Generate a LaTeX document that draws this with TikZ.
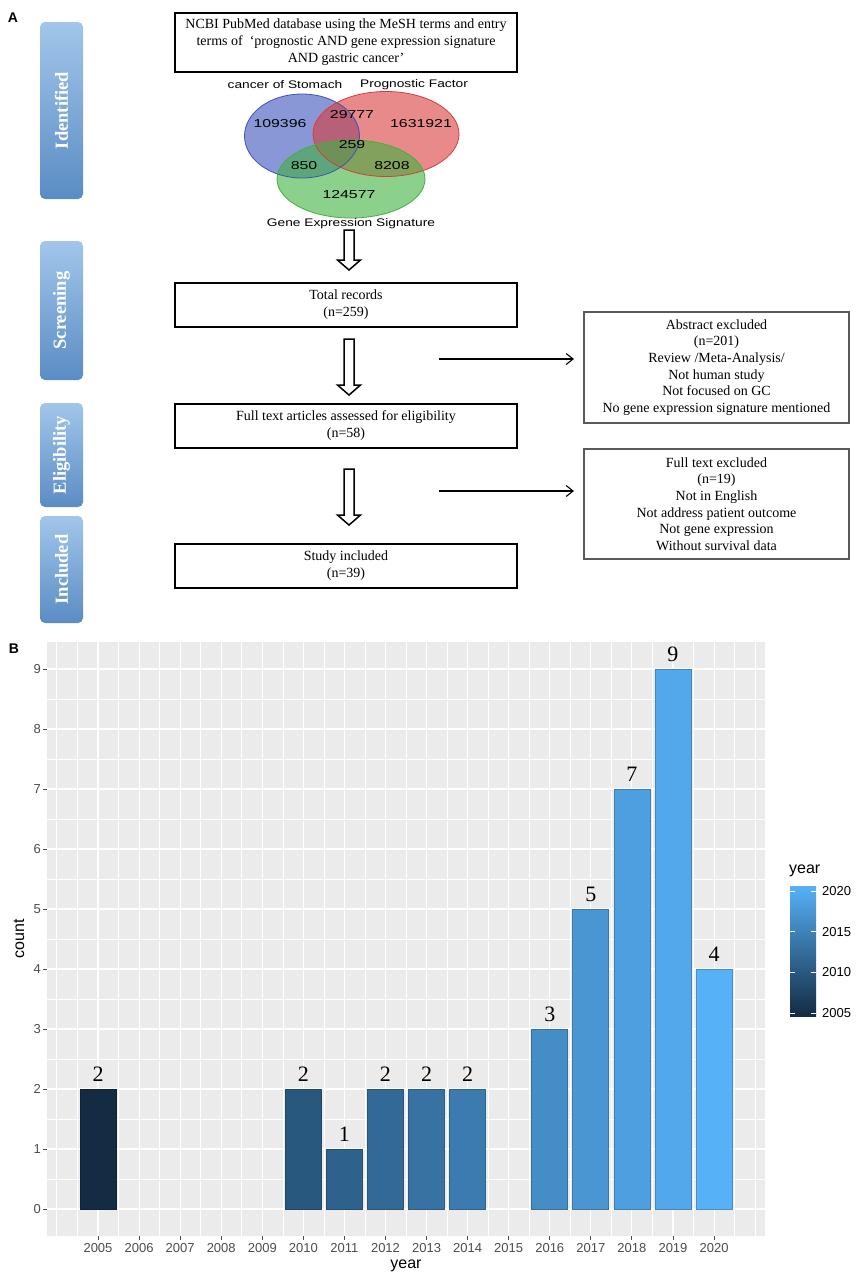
\documentclass[tikz,border=0pt]{standalone}
\usepackage{fontspec}
\usepackage{graphicx}
\setmainfont{Liberation Serif}
\newfontfamily\arialf{Liberation Sans}
\usetikzlibrary{arrows.meta,calc}
\definecolor{c05}{HTML}{132B43}
\definecolor{c20}{HTML}{56B1F7}
\definecolor{sideTop}{HTML}{A2C6EA}
\definecolor{sideBot}{HTML}{5A8CC4}
\definecolor{vblue}{RGB}{60,82,187}
\definecolor{vred}{RGB}{217,60,60}
\definecolor{vgreen}{RGB}{63,177,63}
\definecolor{panelbg}{HTML}{EBEBEB}
\definecolor{axgray}{HTML}{4D4D4D}
\newcommand{\vn}[1]{\scalebox{1.38}[1]{#1}}
\newcommand{\vl}[1]{\scalebox{1.25}[1]{#1}}
\newcommand{\harr}[2]{%
  \draw[harrowstyle] ($(#1)+(-5,0)$) -- ($(#1)+(5,0)$) -- ($(#2)+(5,-10)$) -- ($(#2)+(11.5,-10)$) -- (#2) -- ($(#2)+(-11.5,-10)$) -- ($(#2)+(-5,-10)$) -- cycle;}
\begin{document}
\begin{tikzpicture}[x=1pt,y=-1pt,
  sidebox/.style={rounded corners=5pt, top color=sideTop, bottom color=sideBot, draw=none, minimum width=43pt, inner sep=0pt},
  sidetext/.style={rotate=90, text=white, font=\fontsize{18.5}{20}\selectfont\bfseries},
  mainbox/.style={draw, line width=2.6pt, minimum width=342pt, minimum height=44pt, align=center, inner sep=0pt, font=\fontsize{14}{17}\selectfont},
  exbox/.style={draw=black!65, line width=2pt, minimum width=265pt, align=center, inner sep=0pt, font=\fontsize{14}{16.7}\selectfont},
  harrowstyle/.style={draw, line width=1.5pt, fill=white, line join=miter},
  thinarrow/.style={line width=1.1pt, -{Straight Barb[length=7pt,width=11pt]}, shorten >=9pt},
  vnum/.style={font=\arialf\fontsize{11.5}{12}\selectfont, inner sep=0pt},
  vlab/.style={font=\arialf\fontsize{11}{12}\selectfont, inner sep=0pt},
  panlab/.style={font=\arialf\bfseries\fontsize{14}{14}\selectfont, inner sep=0pt},
  ytick/.style={font=\arialf\fontsize{13}{13}\selectfont, text=axgray, anchor=east, inner sep=0pt},
  xtick/.style={font=\arialf\fontsize{13}{13}\selectfont, text=axgray, anchor=north, inner sep=0pt},
  axtitle/.style={font=\arialf\fontsize{16}{16}\selectfont, inner sep=0pt},
  barlab/.style={font=\fontsize{22}{22}\selectfont, inner sep=0pt},
  majorgrid/.style={white, line width=1.1pt},
  minorgrid/.style={white, line width=0.55pt},
  tickline/.style={axgray, line width=0.9pt}
]
\useasboundingbox (0,0) rectangle (859,1278);
\fill[white] (0,0) rectangle (859,1278);

% ---------- Panel A ----------
\node[panlab] (labA) at (13,18) {A};

\node[sidebox, minimum height=177pt] (sid) at (61.5,110.5) {};
\node[sidetext] (tid) at (sid.center) {Identified};
\node[sidebox, minimum height=139pt] (ssc) at (61.5,310.5) {};
\node[sidetext] (tsc) at (ssc.center) {Screening};
\node[sidebox, minimum height=104pt] (sel) at (61.5,455) {};
\node[sidetext] (tel) at (sel.center) {Eligibility};
\node[sidebox, minimum height=107pt] (sin) at (61.5,569.5) {};
\node[sidetext] (tin) at (sin.center) {Included};

\node[mainbox, minimum height=59pt] (ncbi) at (346,42.5) {NCBI PubMed database using the MeSH terms and entry\\terms of\ \ ‘prognostic AND gene expression signature\\AND gastric cancer’};

% Venn
\fill[vblue, fill opacity=0.6] (302,136) ellipse [x radius=57.5, y radius=42];
\fill[vred, fill opacity=0.6] (386,134) ellipse [x radius=73, y radius=42.5];
\fill[vgreen, fill opacity=0.6] (351,179) ellipse [x radius=74, y radius=39];
\draw[vblue, line width=0.8pt] (302,136) ellipse [x radius=57.5, y radius=42];
\draw[vred, line width=0.8pt] (386,134) ellipse [x radius=73, y radius=42.5];
\draw[vgreen, line width=0.8pt] (351,179) ellipse [x radius=74, y radius=39];

\node[vlab] (lstom) at (285,85) {\vl{cancer of Stomach}};
\node[vlab] (lprog) at (414,85) {\vl{Prognostic Factor}};
\node[vlab] (lgene) at (351,224) {\vl{Gene Expression Signature}};
\node[vnum] (n1) at (280,124) {\vn{109396}};
\node[vnum] (n2) at (352,115) {\vn{29777}};
\node[vnum] (n3) at (421,124) {\vn{1631921}};
\node[vnum] (n4) at (352,145) {\vn{259}};
\node[vnum] (n5) at (304,166) {\vn{850}};
\node[vnum] (n6) at (392,166) {\vn{8208}};
\node[vnum] (n7) at (349,195) {\vn{124577}};

% flow boxes
\node[mainbox] (total) at (346,305) {Total records\\(n=259)};
\node[mainbox] (full) at (346,426) {Full text articles assessed for eligibility\\(n=58)};
\node[mainbox] (study) at (346,566) {Study included\\(n=39)};

\node[exbox, minimum height=111pt] (ex1) at (716.5,367.5) {Abstract excluded\\(n=201)\\Review /Meta-Analysis/\\Not human study\\Not focused on GC\\No gene expression signature mentioned};
\node[exbox, minimum height=110pt] (ex2) at (716.5,504) {Full text excluded\\(n=19)\\Not in English\\Not address patient outcome\\Not gene expression\\Without survival data};

% hollow arrows
\coordinate (h1t) at (349,230); \coordinate (h1b) at (349,270);
\coordinate (h2t) at (349,339); \coordinate (h2b) at (349,395);
\coordinate (h3t) at (349,469); \coordinate (h3b) at (349,525);
\harr{h1t}{h1b}
\harr{h2t}{h2b}
\harr{h3t}{h3b}

% thin arrows
\coordinate (s1) at (439,359);
\coordinate (s2) at (439,491);
\draw[thinarrow] (s1) -- (s1 -| ex1.west);
\draw[thinarrow] (s2) -- (s2 -| ex2.west);

% ---------- Panel B ----------
\node[panlab] (labB) at (14,649) {B};
\fill[panelbg] (47,642) rectangle (765,1236);
\begin{scope}
\clip (47,642) rectangle (765,1236);
\foreach \v in {0.5,1.5,...,8.5} \draw[minorgrid] (47,{1209-60*\v}) -- (765,{1209-60*\v});
\foreach \k in {0,...,16} \draw[minorgrid] ({98+(\k-0.5)*41.07},642) -- ({98+(\k-0.5)*41.07},1236);
\foreach \v in {0,...,9} \draw[majorgrid] (47,{1209-60*\v}) -- (765,{1209-60*\v});
\foreach \k in {-1,...,16} \draw[majorgrid] ({98+\k*41.07},642) -- ({98+\k*41.07},1236);
\end{scope}

\foreach \yr/\v in {2005/2,2010/2,2011/1,2012/2,2013/2,2014/2,2016/3,2017/5,2018/7,2019/9,2020/4}{
  \pgfmathsetmacro\p{(\yr-2005)/15*100}
  \colorlet{barc}{c20!\p!c05}
  \pgfmathsetmacro\bx{98+(\yr-2005)*41.07}
  \draw[fill=barc, draw=barc!80!black, line width=0.7pt] (\bx-18,1209) rectangle (\bx+18,{1209-60*\v});
  \node[barlab] (lab\yr) at (\bx,{1209-60*\v-15}) {\v};
}

\foreach \v in {0,...,9}{
  \draw[tickline] (43,{1209-60*\v}) -- (47,{1209-60*\v});
  \node[ytick] (yt\v) at (41,{1209-60*\v}) {\v};
}
\foreach \k in {0,...,15}{
  \pgfmathtruncatemacro\yy{2005+\k}
  \draw[tickline] ({98+\k*41.07},1236) -- ({98+\k*41.07},1240);
  \node[xtick] (xt\k) at ({98+\k*41.07},1243) {\yy};
}
\node[axtitle, rotate=90] (ylab) at (19,939) {count};
\node[axtitle] (xlab) at (406,1266) {year};

% legend
\node[axtitle, anchor=west] (legt) at (789,871) {year};
\shade[top color=c20, bottom color=c05] (790,886) rectangle (816,1016);
\foreach \yr in {2005,2010,2015,2020}{
  \pgfmathsetmacro\ly{1013-(\yr-2005)*8.133}
  \draw[white, line width=0.6pt] (790,\ly) -- (795,\ly) (811,\ly) -- (816,\ly);
  \node[font=\arialf\fontsize{13}{13}\selectfont, anchor=west, inner sep=0pt] (lg\yr) at (822,\ly) {\yr};
}
\end{tikzpicture}
\end{document}
